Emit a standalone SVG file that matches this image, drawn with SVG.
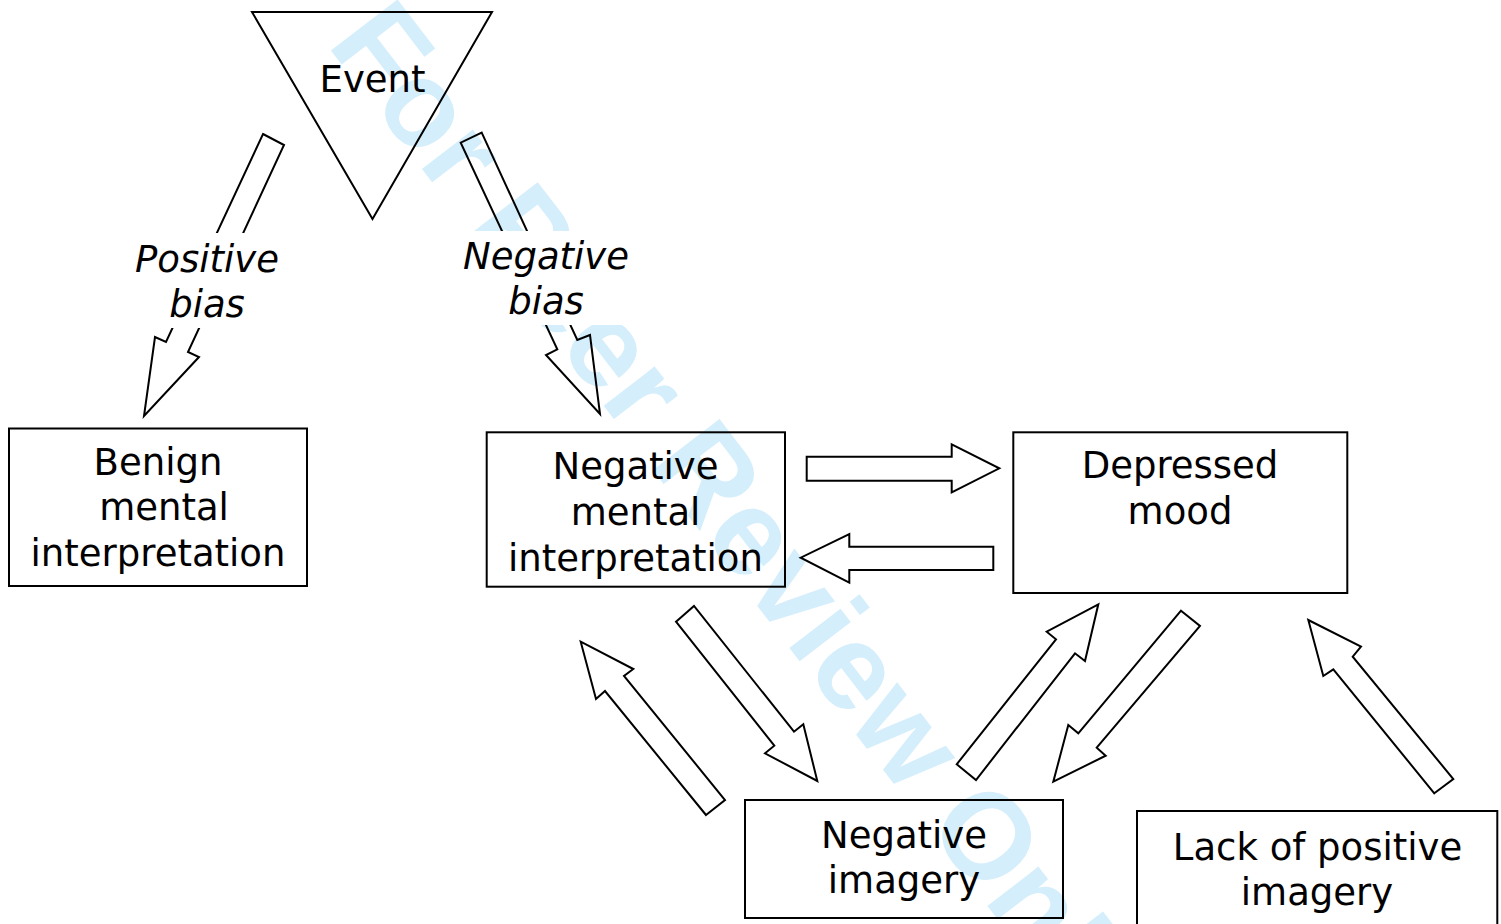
<svg xmlns="http://www.w3.org/2000/svg" width="1501" height="924" viewBox="0 0 1501 924">
<style>
.shape{fill:none;stroke:#000;stroke-width:2;stroke-linejoin:miter}
.t{font-family:"DejaVu Sans","Liberation Sans",sans-serif;font-size:37px;fill:#000;text-anchor:middle}
.it{font-style:italic}
.wm{font-family:"Liberation Sans",Arial,sans-serif;font-weight:bold;font-size:122px;fill:#d4eefb}
</style>
<rect x="0" y="0" width="1501" height="924" fill="#fff"/>
<text class="wm" transform="translate(326,44) rotate(52.5)">For Peer Review Only</text>
<g id="connectors">
<polygon class="shape" points="263,134 284,145 188,352 199,357 144,416 155,337 166,342"/>
<polygon class="shape" points="481.7,132.7 577.3,340 590,335 600,414 546,355 557.3,349.3 460.7,142.7"/>
<polygon class="shape" points="806.7,456.7 951.7,456.7 951.7,444.3 999.3,468.3 951.7,492.3 951.7,480.7 806.7,480.7"/>
<polygon class="shape" points="993.3,546.7 849.3,546.7 849.3,534 800.7,557.7 849.3,582.7 849.3,570 993.3,570"/>
<polygon class="shape" points="706,815 725,800 624,676 633.3,669 580.7,641.7 596,699 605,691"/>
<polygon class="shape" points="676,621.7 694,606 794,731.7 803.3,724.3 817.3,781 765,753.3 774.3,745.7"/>
<polygon class="shape" points="956.7,764.3 976,780 1075,653.3 1085,661 1098.3,604.3 1046.7,631.7 1056,639.3"/>
<polygon class="shape" points="1181,610.7 1200,626 1096.7,747.7 1105.7,755.7 1053.3,781.7 1068.3,725 1078.3,733.3"/>
<polygon class="shape" points="1434.3,793.3 1453.3,779 1352.7,656.7 1361,646.7 1308.3,620 1323.3,676 1333.3,669.3"/>
<g id="label-positive">
<rect x="128" y="233" width="160" height="95" fill="#fff"/>
<text class="t it" x="207" y="271.5">Positive</text>
<text class="t it" x="207" y="316.5">bias</text>
</g>
<g id="label-negative">
<rect x="458" y="231" width="178" height="94" fill="#fff"/>
<text class="t it" x="546" y="269.3">Negative</text>
<text class="t it" x="546" y="314">bias</text>
</g>
</g>
<g id="event">
<polygon class="shape" points="252,12 492,12 372.5,219"/>
<text class="t" x="372.5" y="92">Event</text>
</g>
<g id="benign">
<rect class="shape" x="9" y="428.5" width="298" height="157.5"/>
<text class="t" x="158" y="475">Benign</text>
<text class="t" x="164" y="520">mental</text>
<text class="t" x="158" y="566">interpretation</text>
</g>
<g id="negative-interpretation">
<rect class="shape" x="486.7" y="432.3" width="298.3" height="154.4"/>
<text class="t" x="635.5" y="479.3">Negative</text>
<text class="t" x="635.5" y="525">mental</text>
<text class="t" x="635.5" y="571">interpretation</text>
</g>
<g id="depressed-mood">
<rect class="shape" x="1013.3" y="432.3" width="334" height="160.7"/>
<text class="t" x="1180" y="478.3">Depressed</text>
<text class="t" x="1180" y="524">mood</text>
</g>
<g id="negative-imagery">
<rect class="shape" x="745" y="800" width="318" height="118"/>
<text class="t" x="904" y="848">Negative</text>
<text class="t" x="904" y="893">imagery</text>
</g>
<g id="lack-positive-imagery">
<rect class="shape" x="1137" y="811" width="360.3" height="130"/>
<text class="t" x="1317.5" y="860">Lack of positive</text>
<text class="t" x="1317" y="905">imagery</text>
</g>
</svg>
